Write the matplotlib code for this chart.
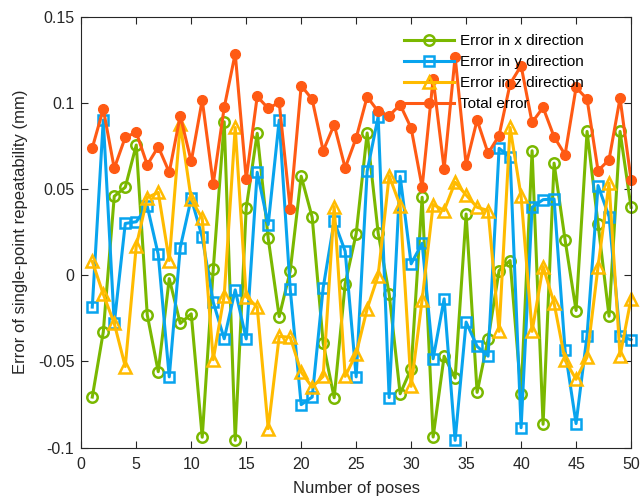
import matplotlib.pyplot as plt
import numpy as np

plt.rcParams['font.family'] = ['Liberation Sans', 'DejaVu Sans']

poses = np.arange(1, 51)

err_x = [-0.0707, -0.033, 0.0458, 0.051, 0.0755, -0.023, -0.056, -0.002, -0.028, -0.0224,
         -0.094, 0.0033, 0.089, -0.0958, 0.039, 0.0823, 0.0214, -0.024, 0.0023, 0.0574,
         0.0336, -0.0394, -0.0711, -0.005, 0.024, 0.0825, 0.0245, -0.0108, -0.0688, -0.0543,
         0.0452, -0.0939, -0.047, -0.0597, 0.0355, -0.068, -0.037, 0.0027, 0.0085, -0.069,
         0.0722, -0.0865, 0.065, 0.0205, -0.0205, 0.0834, 0.0297, -0.0238, 0.0834, 0.0394]

err_y = [-0.0185, 0.090, -0.028, 0.030, 0.031, 0.040, 0.012, -0.059, 0.016, 0.0446,
         0.022, -0.0156, -0.0369, -0.0085, -0.037, 0.0597, 0.0294, 0.090, -0.0079, -0.0751,
         -0.0707, -0.0073, 0.0313, 0.0139, -0.059, 0.0603, 0.092, -0.071, 0.0574, 0.0066,
         0.0185, -0.0485, -0.0137, -0.0958, -0.0272, -0.0413, -0.047, 0.0736, 0.0684, -0.0885,
         0.0394, 0.0438, 0.0442, -0.0436, -0.0861, -0.035, 0.052, 0.034, -0.035, -0.0375]

err_z = [0.008, -0.011, -0.028, -0.053, 0.017, 0.045, 0.048, 0.0085, 0.0877, 0.044,
         0.033, -0.049, -0.0118, 0.0857, -0.0124, -0.0185, -0.089, -0.0355, -0.036, -0.0562,
         -0.065, -0.0587, 0.0398, -0.0587, -0.0456, -0.0195, -0.0002, 0.0577, 0.0404, -0.0645,
         -0.0143, 0.041, 0.0375, 0.0539, 0.0465, 0.0394, 0.0375, -0.0326, 0.0857, 0.0458,
         -0.0326, 0.005, -0.0162, -0.0494, -0.0604, -0.0475, 0.005, 0.0535, -0.0469, -0.0137]

err_total = [0.0738, 0.0964, 0.062, 0.080, 0.0829, 0.064, 0.0745, 0.0597, 0.0925, 0.066,
             0.1016, 0.053, 0.0973, 0.1286, 0.0558, 0.1037, 0.0968, 0.1002, 0.0384, 0.110,
             0.102, 0.0722, 0.0873, 0.0622, 0.0796, 0.1035, 0.095, 0.0925, 0.0989, 0.0854,
             0.051, 0.114, 0.0616, 0.1267, 0.0641, 0.090, 0.0707, 0.081, 0.111, 0.1215,
             0.0886, 0.0973, 0.0803, 0.0699, 0.1089, 0.1022, 0.0606, 0.067, 0.1027, 0.0554]

fig = plt.figure(figsize=(6.4, 5.04), dpi=100)
ax = fig.add_axes([0.127, 0.112, 0.859, 0.855])

lw = 2.2
ax.plot(poses, err_x, '-o', color='#7AB800', lw=lw, ms=7.5, mfc='none', mew=1.8,
        label='Error in x direction', clip_on=False)
ax.plot(poses, err_y, '-s', color='#08A4EE', lw=lw, ms=6.5, mfc='none', mew=1.8,
        label='Error in y direction', clip_on=False)
ax.plot(poses, err_z, '-^', color='#FFBB00', lw=lw, ms=8.5, mfc='none', mew=1.8,
        label='Error in z direction', clip_on=False)
ax.plot(poses, err_total, '-o', color='#FF5A14', lw=lw, ms=7, mfc='#FF5A14', mew=1.0,
        label='Total error', clip_on=False)

ax.set_xlim(0, 50)
ax.set_ylim(-0.1, 0.15)
ax.set_xticks(range(0, 51, 5))
ax.set_yticks([-0.1, -0.05, 0, 0.05, 0.1, 0.15])
ax.set_yticklabels(['-0.1', '-0.05', '0', '0.05', '0.1', '0.15'])
ax.tick_params(direction='in', labelsize=11.5, length=5, width=0.8, top=True, right=True,
               colors='#262626')
ax.tick_params(axis='x', pad=7)
ax.tick_params(axis='y', pad=5)
for s in ax.spines.values():
    s.set_linewidth(0.8)
    s.set_color('#262626')

ax.set_xlabel('Number of poses', fontsize=12, color='#262626', labelpad=6)
ax.set_ylabel('Error of single-point repeatability (mm)', fontsize=12, color='#262626',
              labelpad=7)

ax.legend(loc='upper right', bbox_to_anchor=(0.93, 0.98), frameon=False, fontsize=11,
          handlelength=3.3, handletextpad=0.35, labelspacing=0.45, borderaxespad=0.2)

plt.savefig('out.png', dpi=100)
